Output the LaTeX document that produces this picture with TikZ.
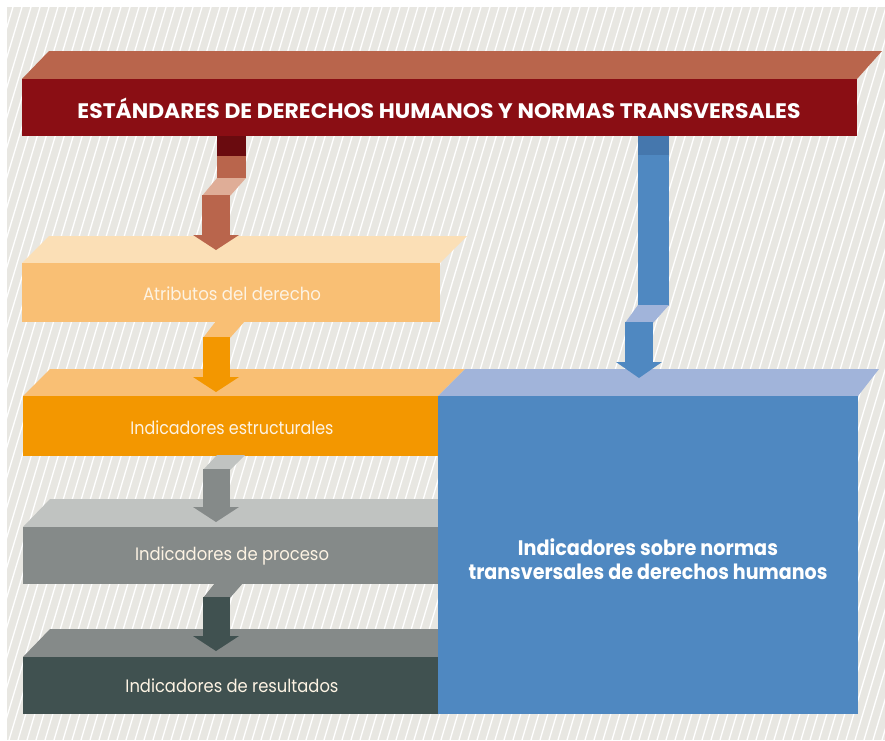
\documentclass[tikz,border=0pt]{standalone}
\usepackage{fontspec}
\usepackage{graphicx}
\setmainfont{Poppins}
\definecolor{bggrey}{HTML}{E8E7E2}
\definecolor{titleFront}{HTML}{8A0E14}
\definecolor{titleTop}{HTML}{B9654C}
\definecolor{redDark}{HTML}{6A0B0F}
\definecolor{redLight}{HTML}{DFAD97}
\definecolor{attrFront}{HTML}{F9BF74}
\definecolor{attrTop}{HTML}{FBDFB6}
\definecolor{orangeF}{HTML}{F39700}
\definecolor{procTop}{HTML}{C0C3C1}
\definecolor{procFront}{HTML}{858A89}
\definecolor{resFront}{HTML}{405150}
\definecolor{blueFront}{HTML}{4F88C1}
\definecolor{blueTop}{HTML}{A1B4DA}
\definecolor{blueDark}{HTML}{4577AD}
\definecolor{cream}{HTML}{FDF3E3}
\tikzset{
  front/.style={inner sep=0pt, outer sep=0pt, anchor=north west},
  lbl/.style={text=cream, font=\fontsize{18}{20}\selectfont},
}
\begin{document}
\begin{tikzpicture}[x=1pt,y=-1pt]
\useasboundingbox (0,0) rectangle (885,740);
\fill[white] (0,0) rectangle (885,740);
\fill[bggrey] (7,7) rectangle (885,740);
\begin{scope}
  \clip (7,7) rectangle (885,740);
  \foreach \i in {-26,...,99}
    \draw[white, line width=1.3pt] ({\i*9},740) -- ({\i*9+220},7);
\end{scope}

% ---- bars ----
% title
\fill[titleTop] (22,79) -- (49,51) -- (882,51) -- (857,79) -- cycle;
\node[front, fill=titleFront, minimum width=835pt, minimum height=57pt] (title) at (22,79) {};
\node[text=white, font=\fontsize{21}{24}\selectfont\bfseries] (titletext) at (439,108)
  {\resizebox{723pt}{\height}{ESTÁNDARES DE DERECHOS HUMANOS Y NORMAS TRANSVERSALES}};

% attributes
\fill[attrTop] (22,263) -- (49,236) -- (467,236) -- (440,263) -- cycle;
\node[front, fill=attrFront, minimum width=418pt, minimum height=59pt] (attr) at (22,263) {};
\node[lbl] (attrtext) at (232,294) {\resizebox{178pt}{\height}{Atributos del derecho}};

% structural
\fill[attrFront] (23,396) -- (50,369) -- (465,369) -- (438,396) -- cycle;
\node[front, fill=orangeF, minimum width=415pt, minimum height=60pt] (struct) at (23,396) {};
\node[lbl] (structtext) at (232,428) {\resizebox{203pt}{\height}{Indicadores estructurales}};

% process
\fill[procTop] (23,527) -- (50,499) -- (465,499) -- (438,527) -- cycle;
\node[front, fill=procFront, minimum width=415pt, minimum height=57pt] (proc) at (23,527) {};
\node[lbl] (proctext) at (232,556) {\resizebox{194pt}{\height}{Indicadores de proceso}};

% results
\fill[procFront] (23,657) -- (50,629) -- (465,629) -- (438,657) -- cycle;
\node[front, fill=resFront, minimum width=415pt, minimum height=57pt] (res) at (23,657) {};
\node[lbl] (restext) at (232,686) {\resizebox{213pt}{\height}{Indicadores de resultados}};

% blue box
\fill[blueTop] (438,396) -- (465,369) -- (879,369) -- (858,396) -- cycle;
\node[front, fill=blueFront, minimum width=420pt, minimum height=318pt] (blue) at (438,396) {};
\node[text=white, font=\fontsize{21}{24}\selectfont\bfseries, align=center] (bluetext) at (648,559)
  {\resizebox{260pt}{\height}{Indicadores sobre normas}\\
   \resizebox{359pt}{\height}{transversales de derechos humanos}};

% ---- block arrows ----
% red
\fill[redDark] (217,136) rectangle (246,156);
\fill[titleTop] (217,156) rectangle (246,178);
\fill[redLight] (217,178) -- (246,178) -- (230,196) -- (202,196) -- cycle;
\fill[titleTop] (202,195) rectangle (230,236);
\fill[titleTop] (193,235) -- (239,235) -- (216,250) -- cycle;

% orange
\fill[attrFront] (216,321) -- (245,321) -- (230,338) -- (203,338) -- cycle;
\fill[orangeF] (203,337) rectangle (230,378);
\fill[orangeF] (193,377) -- (239,377) -- (216,392) -- cycle;

% grey
\fill[procTop] (217,455) -- (245,455) -- (230,470) -- (203,470) -- cycle;
\fill[procFront] (203,469) rectangle (230,508);
\fill[procFront] (193,507) -- (239,507) -- (216,522) -- cycle;

% dark
\fill[procFront] (215,583) -- (243,583) -- (230,598) -- (203,598) -- cycle;
\fill[resFront] (203,597) rectangle (230,637);
\fill[resFront] (193,636) -- (239,636) -- (216,651) -- cycle;

% blue
\fill[blueDark] (638,136) rectangle (669,156);
\fill[blueFront] (638,155) rectangle (669,306);
\fill[blueTop] (638,305) -- (669,305) -- (653,323) -- (625,323) -- cycle;
\fill[blueFront] (625,322) rectangle (653,363);
\fill[blueFront] (616,362) -- (662,362) -- (639,378) -- cycle;
\end{tikzpicture}
\end{document}
